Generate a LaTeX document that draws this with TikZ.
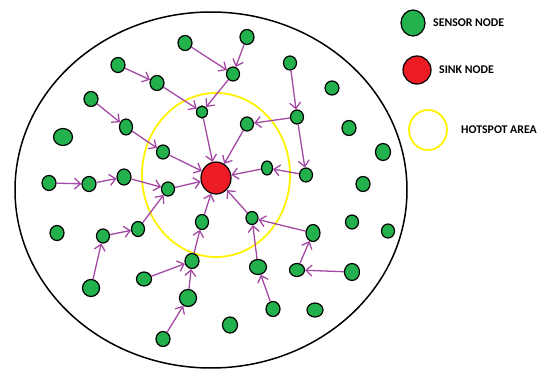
\documentclass[tikz,border=0pt]{standalone}
\usepackage{fontspec}
\setmainfont{Carlito}
\usetikzlibrary{arrows.meta,shapes.geometric}
\definecolor{sensorgreen}{RGB}{34,177,76}
\definecolor{sinkred}{RGB}{237,28,36}
\definecolor{hotyellow}{RGB}{255,242,0}
\definecolor{linkpurple}{RGB}{163,73,164}
\begin{document}
\begin{tikzpicture}[x=1pt,y=-1pt,
        sensor/.style={draw,ellipse,line width=1.2pt,fill=sensorgreen,inner sep=0pt,minimum width=14pt,minimum height=15pt},
        big/.style={minimum width=17pt,minimum height=17pt},
        small/.style={minimum width=11pt,minimum height=12pt},
        sinknode/.style={draw,ellipse,line width=1.2pt,fill=sinkred,inner sep=0pt,minimum width=30pt,minimum height=32pt},
        link/.style={linkpurple,line width=1.3pt,-{Straight Barb[length=6pt,width=11pt]}},
        legend/.style={anchor=west,inner sep=0pt,font=\bfseries\fontsize{11.8}{14}\selectfont}]
                \useasboundingbox (0,0) rectangle (539,369);
                % field and hotspot
                \draw[line width=1.5pt] (211,190) ellipse [x radius=196pt,y radius=178pt];
                \draw[hotyellow,line width=1.8pt] (216,175) ellipse [x radius=74pt,y radius=82pt];
                % sink
                \node[sinknode] (sink) at (216,178) {};
                % sensors
                \node[sensor] (s1) at (185,43) {};
                \node[sensor] (s2) at (247,37) {};
                \node[sensor] (s3) at (118,65) {};
                \node[sensor,minimum width=13pt,minimum height=14pt] (s4) at (233,74) {};
                \node[sensor] (s5) at (157,83) {};
                \node[sensor] (s6) at (91,99) {};
                \node[sensor,small] (s7) at (202,112) {};
                \node[sensor,minimum width=13pt,minimum height=16pt] (s8) at (126,127) {};
                \node[sensor,minimum width=19pt,minimum height=17pt] (s9) at (63,137) {};
                \node[sensor,minimum width=13pt,minimum height=14pt] (s10) at (247,124) {};
                \node[sensor,minimum width=13pt,minimum height=14pt] (s11) at (290,63) {};
                \node[sensor,minimum width=14pt,minimum height=14pt] (s12) at (332,88) {};
                \node[sensor,minimum width=13pt,minimum height=14pt] (s13) at (297,117) {};
                \node[sensor] (s14) at (349,128) {};
                \node[sensor,minimum width=15pt,minimum height=17pt] (s15) at (383,152) {};
                \node[sensor,minimum width=13pt,minimum height=14pt] (s16) at (163,152) {};
                \node[sensor,minimum width=11pt,minimum height=14pt] (s17) at (267,168) {};
                \node[sensor,minimum width=13pt,minimum height=14pt] (s18) at (306,175) {};
                \node[sensor] (s19) at (363,184) {};
                \node[sensor] (s20) at (49,183) {};
                \node[sensor] (s21) at (89,184) {};
                \node[sensor,minimum height=16pt] (s22) at (124,177) {};
                \node[sensor,minimum width=13pt,minimum height=14pt] (s23) at (168,189) {};
                \node[sensor] (s24) at (57,233) {};
                \node[sensor,minimum width=13pt,minimum height=14pt] (s25) at (103,236) {};
                \node[sensor,minimum width=13pt] (s26) at (138,229) {};
                \node[sensor,minimum width=13pt] (s27) at (202,222) {};
                \node[sensor,minimum width=12pt,minimum height=13pt] (s28) at (252,218) {};
                \node[sensor,minimum height=17pt] (s29) at (313,233) {};
                \node[sensor,minimum width=13pt,minimum height=14pt] (s30) at (352,222) {};
                \node[sensor,minimum width=13pt,minimum height=14pt] (s31) at (388,231) {};
                \node[sensor,big] (s32) at (91,288) {};
                \node[sensor,minimum width=15pt,minimum height=14pt] (s33) at (144,279) {};
                \node[sensor] (s34) at (192,261) {};
                \node[sensor,minimum width=17pt,minimum height=15pt] (s35) at (258,267) {};
                \node[sensor,minimum width=15pt,minimum height=13pt] (s36) at (297,270) {};
                \node[sensor,minimum width=15pt,minimum height=17pt] (s37) at (352,272) {};
                \node[sensor,big] (s38) at (188,298) {};
                \node[sensor,minimum width=15pt,minimum height=16pt] (s39) at (230,325) {};
                \node[sensor] (s40) at (163,339) {};
                \node[sensor] (s41) at (273,309) {};
                \node[sensor,minimum width=16pt,minimum height=14pt] (s42) at (315,310) {};
                % routes
                \draw[link] (s1) -- (s4);
                \draw[link] (s2) -- (s4);
                \draw[link] (s4) -- (s7);
                \draw[link] (s3) -- (s5);
                \draw[link] (s5) -- (s7);
                \draw[link] (s7) -- (sink);
                \draw[link] (s6) -- (s8);
                \draw[link] (s8) -- (s16);
                \draw[link] (s16) -- (sink);
                \draw[link] (s11) -- (s13);
                \draw[link] (s13) -- (s10);
                \draw[link] (s10) -- (sink);
                \draw[link] (s13) -- (s18);
                \draw[link] (s18) -- (s17);
                \draw[link] (s17) -- (sink);
                \draw[link] (s20) -- (s21);
                \draw[link] (s21) -- (s22);
                \draw[link] (s22) -- (s23);
                \draw[link] (s23) -- (sink);
                \draw[link] (s32) -- (s25);
                \draw[link] (s25) -- (s26);
                \draw[link] (s26) -- (s23);
                \draw[link] (s40) -- (s38);
                \draw[link] (s38) -- (s34);
                \draw[link] (s33) -- (s34);
                \draw[link] (s34) -- (s27);
                \draw[link] (s27) -- (sink);
                \draw[link] (s41) -- (s35);
                \draw[link] (s35) -- (s28);
                \draw[link] (s37) -- (s36);
                \draw[link] (s36) -- (s29);
                \draw[link] (s29) -- (s28);
                \draw[link] (s28) -- (sink);
                % legend
                \node[draw,ellipse,line width=1.2pt,fill=sensorgreen,minimum width=24pt,minimum height=26pt] (lsensor) at (413,23) {};
                \node[legend] (tsensor) at (433,23) {SENSOR NODE};
                \node[draw,circle,line width=1.2pt,fill=sinkred,minimum size=28pt] (lsink) at (417,70) {};
                \node[legend] (tsink) at (439,70) {SINK NODE};
                \node[draw=hotyellow,ellipse,line width=1.8pt,minimum width=38pt,minimum height=40pt] (lhot) at (428,130) {};
                \node[legend] (thot) at (461,130) {HOTSPOT AREA};
\end{tikzpicture}
\end{document}
